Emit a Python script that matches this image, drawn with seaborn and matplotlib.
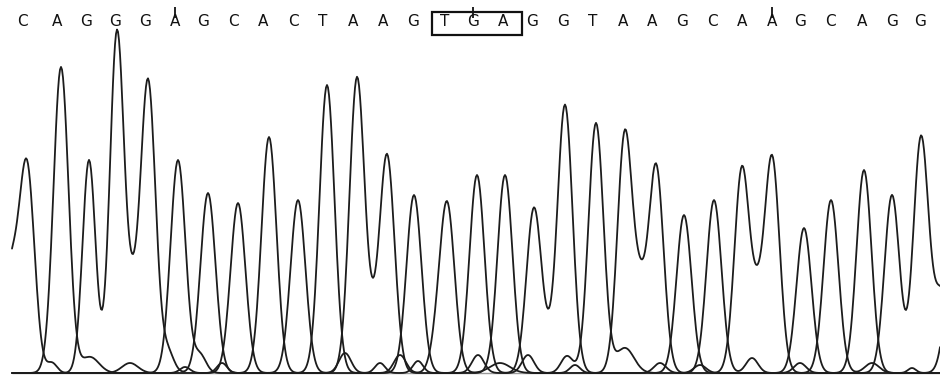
import numpy as np
import pandas as pd
import seaborn as sns
import matplotlib.pyplot as plt
from matplotlib.patches import Rectangle

# base calls along the top and where they are printed (scan units ~ pixels)
bases = list("CAGGGAGCACTAAGTGAGGTAAGCAAGCAGG")
letter_x = [22, 57, 86, 115, 145, 175, 203, 233, 263, 293, 323, 353, 383, 413, 445,
            473, 503, 532, 563, 593, 623, 652, 682, 712, 742, 772, 800, 830, 862, 892, 920]

# main peaks, one per called base
peak_x = [27, 61, 89, 117, 148, 178, 208, 238, 269, 298, 327, 357, 387, 414, 447,
          477, 505, 534, 565, 596, 625, 656, 684, 714, 742, 772, 804, 831, 864, 892, 921]
peak_h = [203, 306, 213, 341, 293, 213, 180, 170, 236, 173, 288, 295, 218, 178, 170,
          198, 198, 165, 268, 250, 241, 208, 158, 173, 205, 216, 145, 173, 203, 178, 235]
peak_w = [7.5, 7.5, 6.5, 7, 7.5, 7.5, 7.5, 7.5, 7.5, 7.5, 7.5, 7.5, 7.5, 7.5, 7.5,
          7.5, 7.5, 7.5, 7.5, 7.5, 7.5, 7.5, 7.5, 7.5, 7.5, 7.5, 7.5, 7.5, 7.5, 7.5, 7.5]

# smaller signal: shoulders between repeated bases, edge peaks, baseline bumps
minor_base = ['G', 'A', 'G', 'A', 'A', 'C', 'G', 'T',
              'A', 'C', 'T', 'G', 'C', 'A', 'T', 'C', 'C', 'T', 'C', 'T',
              'C', 'T', 'C', 'T', 'C', 'T', 'C', 'T', 'C', 'T', 'C', 'T']
minor_x = [132, 372, 549, 640, 757, 10, 942, 955,
           90, 52, 130, 168, 185, 200, 222, 345, 380, 400, 418, 435,
           478, 500, 528, 567, 575, 625, 660, 700, 752, 800, 872, 912]
minor_h = [55, 27, 15, 62, 51, 100, 80, 150,
           16, 10, 10, 20, 6, 18, 10, 20, 10, 18, 12, 15,
           18, 10, 18, 17, 8, 25, 10, 8, 15, 10, 10, 5]
minor_w = [6, 6, 6, 6, 6, 8, 8, 8,
           9, 5, 8, 6, 5, 6, 5, 6, 5, 6, 5, 6,
           6, 10, 6, 6, 5, 9, 6, 6, 6, 6, 7, 4]

comps = pd.DataFrame({
    'base': bases + minor_base,
    'x': peak_x + minor_x,
    'h': peak_h + minor_h,
    'w': peak_w + minor_w,
})

scan = np.arange(12, 941, 1.0)
rows = []
for ch in ['A', 'C', 'G', 'T']:
    sub = comps[comps.base == ch]
    sig = np.zeros_like(scan)
    for _, r in sub.iterrows():
        sig += r.h * np.exp(-(scan - r.x) ** 2 / (2 * r.w ** 2))
    rows.append(pd.DataFrame({'scan': scan, 'signal': sig, 'channel': ch}))
traces = pd.concat(rows, ignore_index=True)

sns.set_style('white')
fig = plt.figure(figsize=(9.4, 3.75), dpi=100)
ax = fig.add_axes([0, 0, 1, 1])

ax.hlines(0, 12, 940, color='#9a9a9a', lw=1)
sns.lineplot(data=traces, x='scan', y='signal', hue='channel',
             palette=['#1c1c1c'] * 4, estimator=None, sort=False,
             lw=1.3, legend=False, ax=ax)

for b, x in zip(bases, letter_x):
    ax.text(x, 351, b, ha='center', va='center', fontsize=11,
            family='DejaVu Sans', color='#111111')

# ruler ticks every 10 bases
ax.vlines([letter_x[5], letter_x[15], letter_x[25]], 355, 366, color='#111111', lw=1.3)

# boxed stop codon
ax.add_patch(Rectangle((432, 338), 90, 23, fill=False, lw=1.6, ec='#111111'))

ax.set_xlim(0, 940)
ax.set_ylim(-2, 373)
ax.axis('off')

fig.savefig('out.png', dpi=100)
